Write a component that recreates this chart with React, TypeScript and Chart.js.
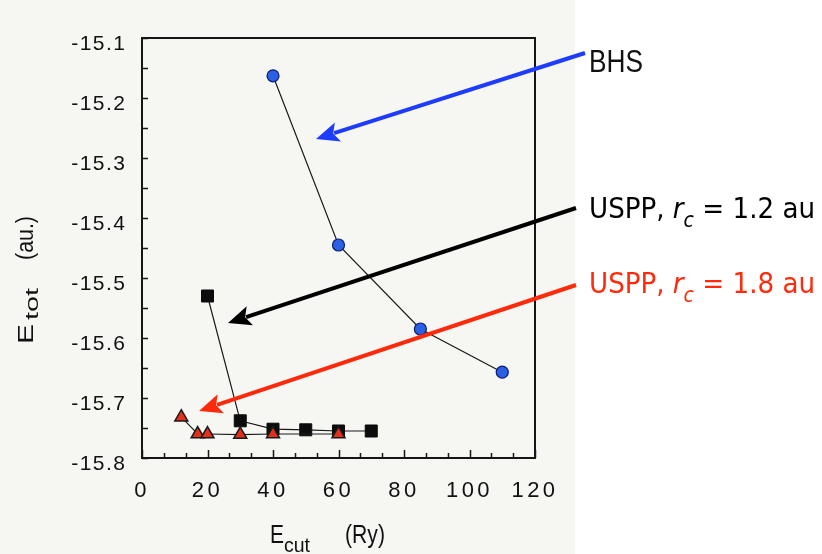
import React, { useEffect, useRef } from 'react';
import { Chart, registerables } from 'chart.js';

Chart.register(...registerables);

// ---- data ----
const bhsCutoff = [40, 60, 85, 110];
const bhsEnergy = [-15.163, -15.445, -15.585, -15.657];

const uspp12Cutoff = [20, 30, 40, 50, 60, 70];
const uspp12Energy = [-15.530, -15.738, -15.752, -15.753, -15.755, -15.755];

const uspp18Cutoff = [12, 17, 20, 30, 40, 60];
const uspp18Energy = [-15.732, -15.760, -15.760, -15.761, -15.760, -15.760];

// ---- axes ----
const xMin = 0;
const xMax = 120;
const xMinorStep = 20 / 3;
const xTickLabels = [0, 20, 40, 60, 80, 100, 120];

const yMin = -15.8;
const yMax = -15.1;
const yMinorStep = 0.05;
const yTickLabels = [-15.1, -15.2, -15.3, -15.4, -15.5, -15.6, -15.7, -15.8];

const BG_SCAN = '#f6f6f3';
const BLUE = '#1e3cff';
const RED = '#ff2a0c';

function drawArrow(ctx: CanvasRenderingContext2D, x1: number, y1: number, x2: number, y2: number, color: string) {
  const ang = Math.atan2(y2 - y1, x2 - x1);
  const headLen = 23;
  const headW = 10;
  const bx = x2 - Math.cos(ang) * headLen;
  const by = y2 - Math.sin(ang) * headLen;
  ctx.save();
  ctx.strokeStyle = color;
  ctx.fillStyle = color;
  ctx.lineWidth = 4;
  ctx.lineCap = 'butt';
  ctx.beginPath();
  ctx.moveTo(x1, y1);
  ctx.lineTo(bx + Math.cos(ang) * 4, by + Math.sin(ang) * 4);
  ctx.stroke();
  ctx.beginPath();
  ctx.moveTo(x2, y2);
  ctx.lineTo(bx + Math.sin(ang) * headW, by - Math.cos(ang) * headW);
  ctx.lineTo(bx + Math.cos(ang) * 5, by + Math.sin(ang) * 5);
  ctx.lineTo(bx - Math.sin(ang) * headW, by + Math.cos(ang) * headW);
  ctx.closePath();
  ctx.fill();
  ctx.restore();
}

type Part = { t: string; f: string; dy?: number };

function drawRich(ctx: CanvasRenderingContext2D, parts: Part[], x: number, y: number, targetW: number, color: string) {
  ctx.save();
  ctx.fillStyle = color;
  ctx.textBaseline = 'alphabetic';
  ctx.textAlign = 'left';
  let total = 0;
  const widths = parts.map((p) => {
    ctx.font = p.f;
    const w = ctx.measureText(p.t).width;
    total += w;
    return w;
  });
  const sx = targetW / total;
  let cx = x;
  parts.forEach((p, i) => {
    ctx.save();
    ctx.font = p.f;
    ctx.translate(cx, y + (p.dy || 0));
    ctx.scale(sx, 1);
    ctx.fillText(p.t, 0, 0);
    ctx.restore();
    cx += widths[i] * sx;
  });
  ctx.restore();
}

function drawPiece(ctx: CanvasRenderingContext2D, t: string, font: string, x: number, y: number, targetW: number) {
  ctx.save();
  ctx.font = font;
  const w = ctx.measureText(t).width;
  ctx.translate(x, y);
  ctx.scale(targetW / w, 1);
  ctx.fillText(t, 0, 0);
  ctx.restore();
}

function withLetterSpacing(spacing: string) {
  return (s: any) => {
    if (s.__spaced) return;
    s.__spaced = true;
    const orig = s.drawLabels.bind(s);
    s.drawLabels = (area: any) => {
      const c = s.ctx as any;
      const prev = c.letterSpacing;
      c.letterSpacing = spacing;
      orig(area);
      c.letterSpacing = prev || '0px';
    };
  };
}

const decorPlugin = {
  id: 'decor',
  beforeDraw(chart: any) {
    const ctx = chart.ctx as CanvasRenderingContext2D;
    ctx.save();
    ctx.fillStyle = '#ffffff';
    ctx.fillRect(0, 0, chart.width, chart.height);
    ctx.fillStyle = BG_SCAN;
    ctx.fillRect(0, 0, 575, chart.height);
    ctx.restore();
  },
  beforeDatasetsDraw(chart: any) {
    const ctx = chart.ctx as CanvasRenderingContext2D;
    const { left, right, top, bottom } = chart.chartArea;
    const xs = chart.scales.x;
    const ys = chart.scales.y;
    ctx.save();
    ctx.strokeStyle = '#151515';
    ctx.lineWidth = 1.5;
    ctx.beginPath();
    ys.ticks.forEach((t: any) => {
      const py = Math.round(ys.getPixelForValue(t.value)) + 0.5;
      ctx.moveTo(left, py);
      ctx.lineTo(left + 6, py);
    });
    xs.ticks.forEach((t: any) => {
      const px = Math.round(xs.getPixelForValue(t.value)) + 0.5;
      const major = xTickLabels.some((l) => Math.abs(l - t.value) < 1e-6);
      ctx.moveTo(px, bottom);
      ctx.lineTo(px, bottom - (major ? 8 : 5));
    });
    ctx.stroke();
    ctx.lineWidth = 2;
    ctx.strokeRect(left, top, right - left, bottom - top);
    ctx.restore();
  },
  afterDraw(chart: any) {
    const ctx = chart.ctx as CanvasRenderingContext2D;

    // axis titles
    ctx.save();
    ctx.fillStyle = '#111';
    ctx.textBaseline = 'alphabetic';
    drawPiece(ctx, 'E', '25px "Liberation Sans"', 270, 543, 14);
    drawPiece(ctx, 'cut', '20px "Liberation Sans"', 284, 552, 26);
    drawPiece(ctx, '(Ry)', '25px "Liberation Sans"', 345, 543, 40);
    ctx.restore();

    ctx.save();
    ctx.fillStyle = '#111';
    ctx.translate(33, 344);
    ctx.rotate(-Math.PI / 2);
    drawPiece(ctx, 'E', '22px "Liberation Sans"', 0, 0, 20);
    drawPiece(ctx, 'tot', '19px "Liberation Sans"', 24, 5, 32);
    drawPiece(ctx, '(au.)', '23px "Liberation Sans"', 84, 0, 44);
    ctx.restore();

    // arrows
    drawArrow(ctx, 585, 53, 316, 139, BLUE);
    drawArrow(ctx, 576, 208, 228, 323, '#000000');
    drawArrow(ctx, 576, 285, 199, 411, RED);

    // annotation texts
    drawRich(ctx, [{ t: 'BHS', f: '31px "Liberation Sans"' }], 589, 72, 54, '#111');
    drawRich(
      ctx,
      [
        { t: 'USPP, ', f: '29px "DejaVu Sans"' },
        { t: 'r', f: 'italic 29px "DejaVu Sans"' },
        { t: 'c', f: 'italic 21px "DejaVu Sans"', dy: 9 },
        { t: ' = 1.2 au', f: '29px "DejaVu Sans"' },
      ],
      589,
      218,
      226,
      '#000'
    );
    drawRich(
      ctx,
      [
        { t: 'USPP, ', f: '29px "DejaVu Sans"' },
        { t: 'r', f: 'italic 29px "DejaVu Sans"' },
        { t: 'c', f: 'italic 21px "DejaVu Sans"', dy: 9 },
        { t: ' = 1.8 au', f: '29px "DejaVu Sans"' },
      ],
      589,
      293,
      226,
      RED
    );
  },
};

function toPoints(xs: number[], ys: number[]) {
  return xs.map((x, i) => ({ x, y: ys[i] }));
}

export default function App() {
  const ref = useRef<HTMLCanvasElement>(null);

  useEffect(() => {
    const canvas = ref.current;
    if (!canvas) return;
    const chart = new Chart(canvas, {
      type: 'line',
      data: {
        datasets: [
          {
            label: 'USPP, rc = 1.8 au',
            data: toPoints(uspp18Cutoff, uspp18Energy),
            borderColor: '#1a1a1a',
            borderWidth: 1.2,
            pointStyle: 'triangle',
            pointRadius: 7.5,
            pointBackgroundColor: '#e2301c',
            pointBorderColor: '#1a1a1a',
            pointBorderWidth: 1.5,
            tension: 0,
            fill: false,
          },
          {
            label: 'USPP, rc = 1.2 au',
            data: toPoints(uspp12Cutoff, uspp12Energy),
            borderColor: '#1a1a1a',
            borderWidth: 1.2,
            pointStyle: 'rect',
            pointRadius: 8.5,
            pointBackgroundColor: '#0c0c0c',
            pointBorderColor: '#0c0c0c',
            pointBorderWidth: 1,
            tension: 0,
            fill: false,
          },
          {
            label: 'BHS',
            data: toPoints(bhsCutoff, bhsEnergy),
            borderColor: '#1a1a1a',
            borderWidth: 1.2,
            pointStyle: 'circle',
            pointRadius: 6,
            pointBackgroundColor: '#2b5fe6',
            pointBorderColor: '#0d1e6e',
            pointBorderWidth: 1.2,
            tension: 0,
            fill: false,
          },
        ],
      },
      options: {
        responsive: false,
        animation: false,
        events: [],
        layout: { padding: { left: 0, top: 38, right: 287, bottom: 0 } },
        plugins: {
          legend: { display: false },
          tooltip: { enabled: false },
          title: { display: false },
        },
        scales: {
          x: {
            type: 'linear',
            min: xMin,
            max: xMax,
            grid: { display: false },
            border: { display: false },
            afterFit: (s: any) => {
              s.height = 96;
              withLetterSpacing('3.5px')(s);
            },
            afterBuildTicks: (s: any) => {
              const n = Math.round((xMax - xMin) / xMinorStep);
              s.ticks = Array.from({ length: n + 1 }, (_, i) => ({ value: xMin + i * xMinorStep }));
            },
            ticks: {
              autoSkip: false,
              maxRotation: 0,
              minRotation: 0,
              padding: 12,
              color: '#111',
              font: { family: '"Liberation Sans"', size: 22 },
              callback: (v: any) => {
                const val = Number(v);
                const lab = xTickLabels.find((l) => Math.abs(l - val) < 1e-6);
                return lab !== undefined ? String(lab) : '';
              },
            },
          },
          y: {
            type: 'linear',
            min: yMin,
            max: yMax,
            grid: { display: false },
            border: { display: false },
            afterFit: (s: any) => {
              s.width = 142;
              withLetterSpacing('1.5px')(s);
            },
            afterBuildTicks: (s: any) => {
              const n = Math.round((yMax - yMin) / yMinorStep);
              s.ticks = Array.from({ length: n + 1 }, (_, i) => ({
                value: Math.round((yMin + i * yMinorStep) * 1000) / 1000,
              }));
            },
            ticks: {
              autoSkip: false,
              padding: 7.5,
              labelOffset: 6,
              color: '#111',
              font: { family: '"Liberation Sans"', size: 21 },
              callback: (v: any) => {
                const val = Number(v);
                const lab = yTickLabels.find((l) => Math.abs(l - val) < 1e-6);
                return lab !== undefined ? lab.toFixed(1) : '';
              },
            },
          },
        },
      },
      plugins: [decorPlugin],
    } as any);
    return () => chart.destroy();
  }, []);

  return (
    <div style={{ position: 'fixed', left: 0, top: 0, width: 822, height: 554, background: '#ffffff' }}>
      <canvas ref={ref} width={822} height={554} style={{ display: 'block', width: 822, height: 554 }} />
    </div>
  );
}
